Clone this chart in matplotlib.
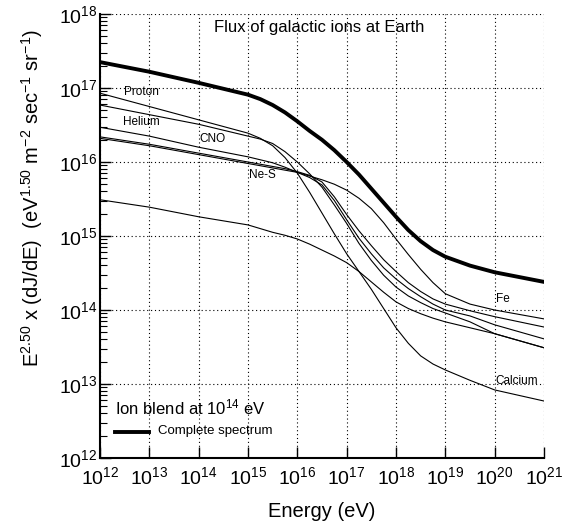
import numpy as np
import matplotlib.pyplot as plt

plt.rcParams['font.family'] = ['Liberation Sans', 'DejaVu Sans']
plt.rcParams['mathtext.fontset'] = 'custom'
plt.rcParams['mathtext.rm'] = 'Liberation Sans'
plt.rcParams['mathtext.it'] = 'Liberation Sans'

# log10 of energy (eV)
log_e = [12, 13, 14, 15, 15.25, 15.5, 15.75, 16, 16.25, 16.5, 16.75, 17, 17.25,
         17.5, 17.75, 18, 18.25, 18.5, 18.75, 19, 19.5, 20, 21]

# log10 of E^2.5 dJ/dE for each ion group
calcium = [16.93, 16.75, 16.57, 16.39, 16.32, 16.22, 16.06, 15.85, 15.59, 15.31, 15.03, 14.76,
           14.52, 14.28, 14.02, 13.76, 13.55, 13.38, 13.27, 13.19, 13.05, 12.92, 12.77]
helium = [16.77, 16.64, 16.51, 16.35, 16.31, 16.25, 16.14, 16.00, 15.84, 15.66, 15.42, 15.17,
          14.90, 14.67, 14.47, 14.31, 14.19, 14.10, 14.02, 13.96, 13.84, 13.68, 13.49]
cno = [16.47, 16.35, 16.20, 16.07, 16.03, 15.99, 15.93, 15.86, 15.79, 15.69, 15.48, 15.22,
       14.97, 14.76, 14.57, 14.42, 14.29, 14.18, 14.08, 14.00, 13.92, 13.80, 13.61]
ne_s = [16.34, 16.24, 16.12, 16.00, 15.97, 15.94, 15.91, 15.87, 15.82, 15.73, 15.53, 15.29,
        15.07, 14.87, 14.68, 14.52, 14.37, 14.25, 14.15, 14.08, 13.99, 13.91, 13.77]
fe = [16.32, 16.22, 16.10, 15.98, 15.95, 15.92, 15.89, 15.86, 15.81, 15.76, 15.70, 15.62,
      15.51, 15.37, 15.18, 14.96, 14.75, 14.55, 14.37, 14.22, 14.08, 14.00, 13.88]
low = [15.49, 15.39, 15.26, 15.15, 15.10, 15.05, 15.01, 14.96, 14.89, 14.81, 14.73, 14.64,
       14.52, 14.38, 14.24, 14.11, 14.02, 13.95, 13.89, 13.84, 13.76, 13.68, 13.49]
total = [17.35, 17.22, 17.07, 16.91, 16.85, 16.77, 16.67, 16.55, 16.42, 16.30, 16.16, 16.00,
         15.83, 15.64, 15.45, 15.26, 15.08, 14.93, 14.81, 14.72, 14.60, 14.51, 14.38]

# labels placed in the plot: (text, log E, log flux)
labels = [("Proton", 12.49, 16.95), ("Helium", 12.47, 16.54), ("CNO", 14.01, 16.31),
          ("Ne-S", 15.03, 15.82), ("Fe", 20.03, 14.15), ("Calcium", 20.01, 13.04)]

fig = plt.figure(figsize=(5.83, 5.29), dpi=100)
ax = fig.add_axes([0.1715, 0.1342, 0.7616, 0.8393])

E = 10.0 ** np.array(log_e)
for comp in [calcium, helium, cno, ne_s, fe, low]:
    ax.plot(E, 10.0 ** np.array(comp), color='black', lw=0.8)
ax.plot(E, 10.0 ** np.array(total), color='black', lw=2.8)

for txt, lx, ly in labels:
    ax.text(10 ** lx, 10 ** ly, txt, fontsize=8.5, ha='left', va='center')

ax.text(10 ** 14.31, 10 ** 17.82, "Flux of galactic ions at Earth", fontsize=12,
        ha='left', va='center')
ax.text(10 ** 12.30, 10 ** 12.68, "Ion blend at $10^{14}$ eV", fontsize=12,
        ha='left', va='center')
ax.plot([10 ** 12.30, 10 ** 12.99], [10 ** 12.35, 10 ** 12.35], color='black', lw=2.8)
ax.text(10 ** 13.18, 10 ** 12.36, "Complete spectrum", fontsize=9.5, ha='left', va='center')

ax.set_xscale('log')
ax.set_yscale('log')
ax.set_xlim(1e12, 1e21)
ax.set_ylim(1e12, 1e18)

xt = [10.0 ** k for k in range(12, 22)]
yt = [10.0 ** k for k in range(12, 19)]
ax.set_xticks(xt)
ax.set_xticklabels([f"$10^{{{k}}}$" for k in range(12, 22)])
ax.set_yticks(yt)
ax.set_yticklabels([f"$10^{{{k}}}$" for k in range(12, 19)])

ax.grid(True, which='major', linestyle=(0, (1, 2.5)), color='black', lw=0.8)
ax.spines['top'].set_visible(False)
ax.spines['right'].set_visible(False)
ax.spines['left'].set_linewidth(1.5)
ax.spines['bottom'].set_linewidth(1.5)
ax.tick_params(which='major', direction='in', length=8, width=1, labelsize=14)
ax.tick_params(axis='x', which='major', pad=6)
ax.tick_params(axis='y', which='major', pad=2)
ax.tick_params(which='minor', direction='in', length=5, width=0.8)

ax.set_xlabel("Energy (eV)", fontsize=14.5, labelpad=10)
ax.set_ylabel("E$^{2.50}$ x (dJ/dE)  (eV$^{1.50}$ m$^{-2}$ sec$^{-1}$ sr$^{-1}$)",
              fontsize=14.5)
ax.yaxis.set_label_coords(-0.124, 0.585)

fig.savefig("out.png", dpi=100)
